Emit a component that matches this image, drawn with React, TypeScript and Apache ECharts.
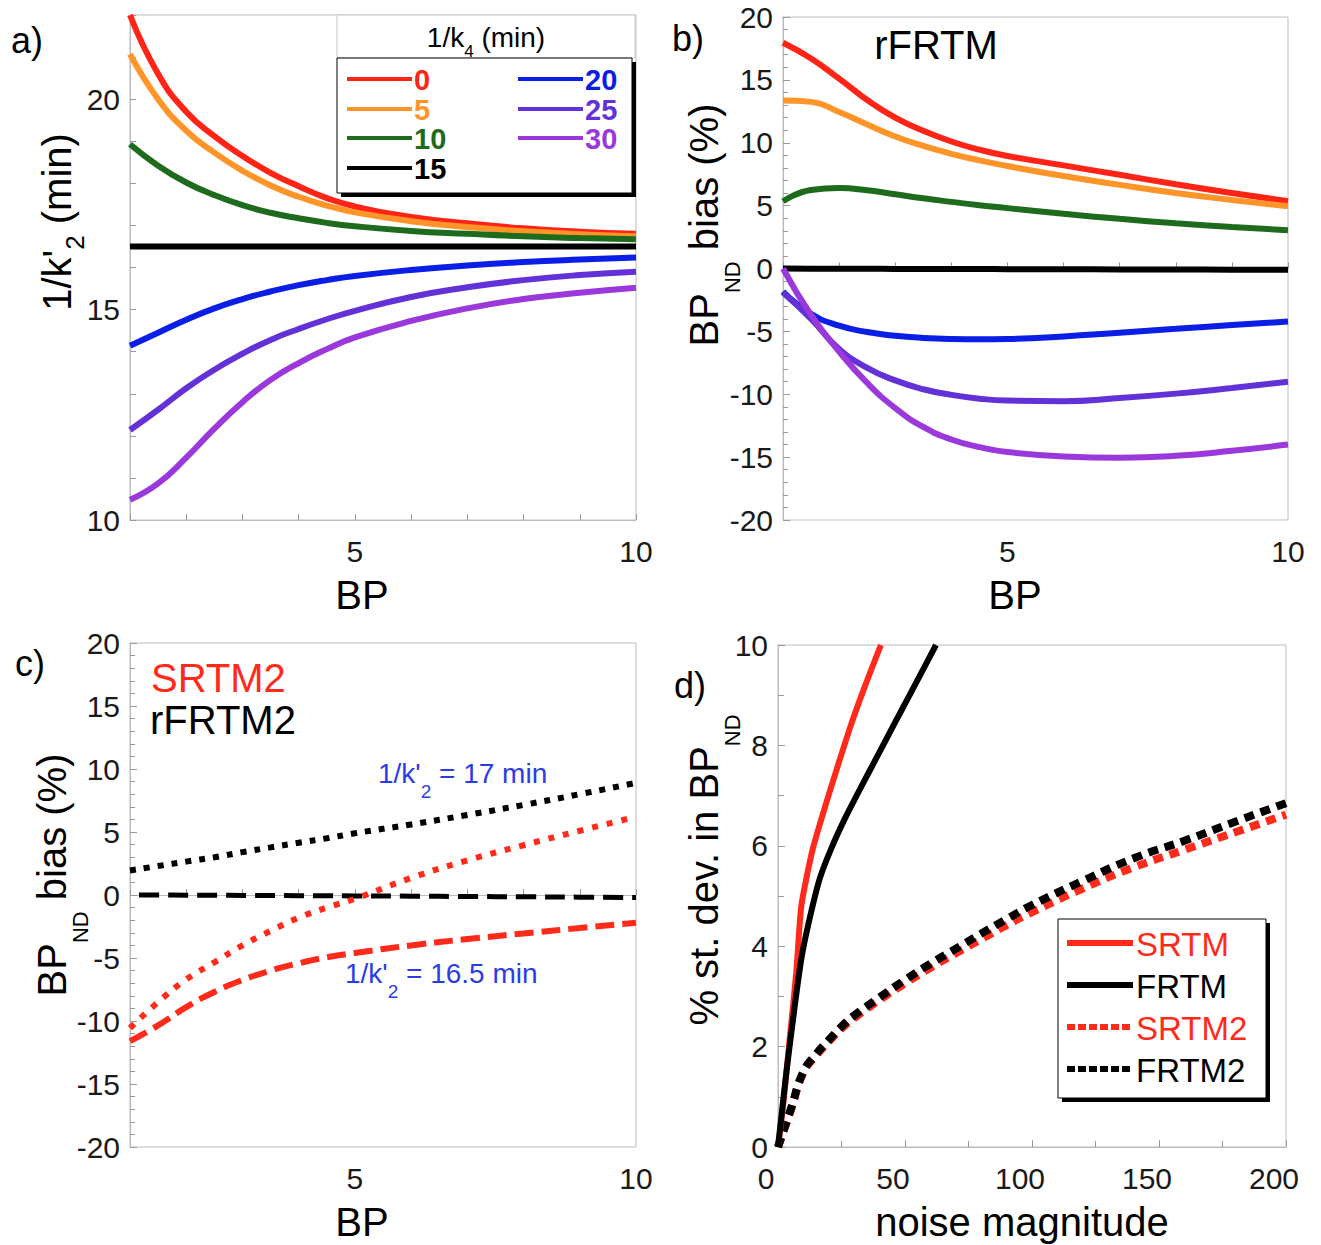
import React, { useEffect, useRef } from "react";
import * as echarts from "echarts";

// ---------- data ----------
const BP = [1, 1.5, 2, 2.5, 3, 3.5, 4, 4.5, 5, 6, 7, 8, 9, 10];

const K4_NAMES = ["0", "5", "10", "15", "20", "25", "30"];
const K4_COLORS = ["#ff2416", "#ff9428", "#1e6b1e", "#000000", "#0a1ee6", "#6232d8", "#9a38dc"];

// panel a: 1/k'2 (min) vs BP
const A_K4_0 = [22.0, 20.6, 19.7, 19.12, 18.65, 18.25, 17.93, 17.65, 17.45, 17.2, 17.05, 16.93, 16.85, 16.8];
const A_K4_5 = [21.07, 20.0, 19.25, 18.73, 18.3, 17.95, 17.68, 17.47, 17.31, 17.1, 16.96, 16.86, 16.79, 16.74];
const A_K4_10 = [18.93, 18.42, 18.02, 17.72, 17.48, 17.3, 17.17, 17.06, 16.98, 16.87, 16.8, 16.74, 16.7, 16.67];
const A_K4_15 = [16.5, 16.5, 16.5, 16.5, 16.5, 16.5, 16.5, 16.5, 16.5, 16.5, 16.5, 16.5, 16.5, 16.5];
const A_K4_20 = [14.14, 14.45, 14.76, 15.03, 15.25, 15.43, 15.58, 15.7, 15.8, 15.94, 16.05, 16.13, 16.19, 16.24];
const A_K4_25 = [12.14, 12.62, 13.13, 13.57, 13.95, 14.28, 14.54, 14.77, 14.97, 15.3, 15.53, 15.7, 15.82, 15.9];
const A_K4_30 = [10.48, 10.87, 11.48, 12.17, 12.8, 13.33, 13.73, 14.06, 14.34, 14.73, 15.03, 15.25, 15.4, 15.52];
const A_SERIES = [A_K4_0, A_K4_5, A_K4_10, A_K4_15, A_K4_20, A_K4_25, A_K4_30];

// panel b: rFRTM BPND bias (%) vs BP
const B_K4_0 = [17.95, 16.7, 15.1, 13.4, 12.0, 10.95, 10.1, 9.45, 8.95, 8.2, 7.45, 6.7, 6.0, 5.35];
const B_K4_5 = [13.36, 13.25, 12.45, 11.45, 10.5, 9.75, 9.12, 8.6, 8.15, 7.35, 6.65, 6.0, 5.45, 4.95];
const B_K4_10 = [5.34, 6.25, 6.4, 6.22, 5.9, 5.58, 5.3, 5.03, 4.8, 4.35, 3.95, 3.6, 3.3, 3.05];
const B_K4_15 = [0, -0.01, -0.02, -0.02, -0.03, -0.03, -0.04, -0.04, -0.05, -0.06, -0.07, -0.08, -0.09, -0.1];
const B_K4_20 = [-1.83, -3.6, -4.55, -5.05, -5.35, -5.52, -5.6, -5.62, -5.6, -5.4, -5.1, -4.8, -4.5, -4.22];
const B_K4_25 = [-1.9, -4.0, -6.4, -7.9, -8.9, -9.6, -10.05, -10.35, -10.5, -10.55, -10.3, -9.95, -9.5, -9.0];
const B_K4_30 = [0.0, -3.7, -6.6, -9.1, -11.1, -12.6, -13.6, -14.2, -14.6, -14.95, -15.05, -14.9, -14.5, -14.0];
const B_SERIES = [B_K4_0, B_K4_5, B_K4_10, B_K4_15, B_K4_20, B_K4_25, B_K4_30];

// panel c: BPND bias (%) vs BP
const C_SRTM2_17 = [-10.56, -8.5, -6.7, -5.35, -4.0, -2.85, -1.8, -1.0, -0.3, 1.35, 2.75, 3.95, 5.1, 6.2];
const C_SRTM2_165 = [-11.6, -10.35, -8.9, -7.7, -6.75, -6.0, -5.42, -4.95, -4.6, -4.0, -3.5, -3.05, -2.62, -2.2];
const C_RFRTM2_17 = [1.95, 2.3, 2.65, 3.0, 3.4, 3.78, 4.15, 4.5, 4.9, 5.6, 6.35, 7.15, 8.0, 8.9];
const C_RFRTM2_165 = [0, 0, -0.01, -0.02, -0.03, -0.04, -0.05, -0.06, -0.07, -0.09, -0.12, -0.14, -0.17, -0.2];
const C_TITLES = ["SRTM2", "rFRTM2"];
const C_NOTES = ["17", "16.5"];

// panel d: % st. dev. in BPND vs noise magnitude
const D_SRTM_NOISE = [0, 2, 4.6, 7.2, 9.2, 13.7, 20.3, 28.2, 34, 40.5];
const D_SRTM_SD = [0, 0.82, 2.15, 3.48, 4.81, 5.94, 7.07, 8.33, 9.15, 10];
const D_FRTM_NOISE = [0, 3.3, 6.6, 9.2, 12, 16.4, 21, 26.9, 33, 39.9, 46, 51.7, 57, 62.2];
const D_FRTM_SD = [0, 1.49, 2.81, 3.75, 4.45, 5.34, 5.95, 6.6, 7.2, 7.86, 8.45, 8.99, 9.5, 10];
const D_NOISE2 = [0, 5, 10, 15, 20, 25, 30, 40, 50, 60, 70, 80, 90, 100, 120, 140, 160, 180, 200];
const D_SRTM2_SD = [0, 0.72, 1.48, 1.82, 2.1, 2.36, 2.57, 2.93, 3.26, 3.57, 3.86, 4.14, 4.42, 4.68, 5.15, 5.57, 5.92, 6.27, 6.62];
const D_FRTM2_SD = [0, 0.75, 1.5, 1.85, 2.13, 2.4, 2.62, 2.98, 3.33, 3.65, 3.95, 4.25, 4.54, 4.82, 5.3, 5.75, 6.1, 6.48, 6.85];
const D_NAMES = ["SRTM", "FRTM", "SRTM2", "FRTM2"];

// ---------- styles ----------
const FONT = "'Liberation Sans', Arial, Helvetica, sans-serif";
const FRAME = "#bdbdbd";
const TICK = "#9a9a9a";
const LABEL = "#1a1a1a";
const RED = "#ff2a1a";
const BLUE = "#2a3ce8";

const pairs = (xs: number[], ys: number[]) => xs.map((x, i) => [x, ys[i]]);

function txt(x: number, y: number, text: string, o: any = {}) {
  const align = o.align || "left";
  const va = o.va || "middle";
  return {
    type: "text",
    x,
    y,
    rotation: o.rotation || 0,
    z: 100,
    style: {
      text,
      fill: o.fill || "#000",
      fontSize: o.fontSize || 30,
      fontFamily: FONT,
      fontWeight: o.fontWeight || "normal",
      lineHeight: o.lineHeight,
      align,
      verticalAlign: va,
      textAlign: align,
      textVerticalAlign: va,
      rich: o.rich,
    },
  };
}

function hline(x1: number, x2: number, y: number, color: string, dash?: number[]) {
  return {
    type: "line",
    z: 100,
    shape: { x1, y1: y, x2, y2: y },
    style: { stroke: color, lineWidth: 6, lineDash: dash || null },
  };
}

function bpAxis(gridIndex: number) {
  return {
    type: "value",
    gridIndex,
    min: 1,
    max: 10,
    interval: 1,
    axisLine: { show: true, lineStyle: { color: FRAME } },
    axisTick: { show: true, inside: true, length: 6, lineStyle: { color: TICK } },
    splitLine: { show: false },
    axisLabel: {
      fontSize: 30,
      color: LABEL,
      fontFamily: FONT,
      margin: 16,
      formatter: (v: number) => (v === 5 || v === 10 ? String(v) : ""),
    },
  };
}

function biasAxis(gridIndex: number) {
  return {
    type: "value",
    gridIndex,
    min: -20,
    max: 20,
    interval: 5,
    axisLine: { show: true, lineStyle: { color: FRAME } },
    axisTick: { show: true, inside: true, length: 7, lineStyle: { color: TICK } },
    minorTick: { show: true, splitNumber: 5, length: 5, lineStyle: { color: TICK } },
    splitLine: { show: false },
    axisLabel: { fontSize: 30, color: LABEL, fontFamily: FONT, margin: 10 },
  };
}

export default function App() {
  const ref = useRef<HTMLDivElement>(null);

  useEffect(() => {
    document.body.style.margin = "0";
    if (!ref.current) return;
    const chart = echarts.init(ref.current, undefined, { renderer: "svg" });

    const series: any[] = [];
    A_SERIES.forEach((ys, i) => {
      series.push({
        type: "line",
        name: K4_NAMES[i],
        xAxisIndex: 0,
        yAxisIndex: 0,
        data: pairs(BP, ys),
        symbol: "none",
        smooth: true,
        lineStyle: { color: K4_COLORS[i], width: 6 },
      });
    });
    B_SERIES.forEach((ys, i) => {
      series.push({
        type: "line",
        name: "b" + K4_NAMES[i],
        xAxisIndex: 1,
        yAxisIndex: 1,
        data: pairs(BP, ys),
        symbol: "none",
        smooth: true,
        lineStyle: { color: K4_COLORS[i], width: 6 },
      });
    });
    // panel c
    series.push(
      {
        type: "line", name: "rFRTM2 17", xAxisIndex: 2, yAxisIndex: 2,
        data: pairs(BP, C_RFRTM2_17), symbol: "none", smooth: true,
        lineStyle: { color: "#000", width: 6, type: [6, 8], cap: "butt" },
      },
      {
        type: "line", name: "rFRTM2 16.5", xAxisIndex: 2, yAxisIndex: 2,
        data: pairs(BP, C_RFRTM2_165), symbol: "none", smooth: true,
        lineStyle: { color: "#000", width: 5, type: [20, 9], dashOffset: 20, cap: "butt" },
      },
      {
        type: "line", name: "SRTM2 17", xAxisIndex: 2, yAxisIndex: 2,
        data: pairs(BP, C_SRTM2_17), symbol: "none", smooth: true,
        lineStyle: { color: RED, width: 6, type: [6, 9], cap: "butt" },
      },
      {
        type: "line", name: "SRTM2 16.5", xAxisIndex: 2, yAxisIndex: 2,
        data: pairs(BP, C_SRTM2_165), symbol: "none", smooth: true,
        lineStyle: { color: RED, width: 6, type: [19, 8], cap: "butt" },
      }
    );
    // panel d
    series.push(
      {
        type: "line", name: D_NAMES[2], xAxisIndex: 3, yAxisIndex: 3,
        data: pairs(D_NOISE2, D_SRTM2_SD), symbol: "none", smooth: true,
        lineStyle: { color: RED, width: 8, type: [10, 7], cap: "butt" },
      },
      {
        type: "line", name: D_NAMES[3], xAxisIndex: 3, yAxisIndex: 3,
        data: pairs(D_NOISE2, D_FRTM2_SD), symbol: "none", smooth: true,
        lineStyle: { color: "#000", width: 8, type: [10, 7], cap: "butt" },
      },
      {
        type: "line", name: D_NAMES[0], xAxisIndex: 3, yAxisIndex: 3,
        data: pairs(D_SRTM_NOISE, D_SRTM_SD), symbol: "none", smooth: 0.2,
        lineStyle: { color: RED, width: 6 },
      },
      {
        type: "line", name: D_NAMES[1], xAxisIndex: 3, yAxisIndex: 3,
        data: pairs(D_FRTM_NOISE, D_FRTM_SD), symbol: "none", smooth: 0.2,
        lineStyle: { color: "#000", width: 6 },
      }
    );

    // ----- graphics: legends, titles, annotations -----
    const g: any[] = [];
    // panel letters
    g.push(txt(27, 40, "a)", { fontSize: 36, align: "center" }));
    g.push(txt(688, 38, "b)", { fontSize: 36, align: "center" }));
    g.push(txt(30, 663, "c)", { fontSize: 36, align: "center" }));
    g.push(txt(690, 685, "d)", { fontSize: 36, align: "center" }));

    // axis titles
    const subND = { s: { fontSize: 22, padding: [56, 0, 0, 0], fontFamily: FONT } };
    g.push(txt(362, 595, "BP", { fontSize: 40, align: "center" }));
    g.push(txt(1015, 595, "BP", { fontSize: 40, align: "center" }));
    g.push(txt(362, 1222, "BP", { fontSize: 40, align: "center" }));
    g.push(txt(1022, 1222, "noise magnitude", { fontSize: 40, align: "center" }));
    g.push(txt(57, 222, "1/k'{s|2} (min)", {
      fontSize: 40, align: "center", rotation: Math.PI / 2,
      rich: { s: { fontSize: 26, padding: [36, 0, 0, 0], fontFamily: FONT } },
    }));
    g.push(txt(704, 225, "BP{s|ND} bias (%)", { fontSize: 40, align: "center", rotation: Math.PI / 2, rich: subND }));
    g.push(txt(52, 875, "BP{s|ND} bias (%)", { fontSize: 40, align: "center", rotation: Math.PI / 2, rich: subND }));
    g.push(txt(704, 870, "% st. dev. in BP{s|ND}", { fontSize: 40, align: "center", rotation: Math.PI / 2, rich: subND }));

    // panel b label
    g.push(txt(936, 45, "rFRTM", { fontSize: 40, align: "center" }));

    // panel c labels
    g.push(txt(151, 678, C_TITLES[0], { fontSize: 40, fill: RED, lineHeight: 38 }));
    g.push(txt(150, 720, C_TITLES[1], { fontSize: 40, lineHeight: 38 }));
    const subNote = { s: { fontSize: 19, padding: [36, 0, 0, 0], fontFamily: FONT, fill: BLUE } };
    g.push(txt(378, 773, "1/k'{s|2} = " + C_NOTES[0] + " min", { fontSize: 28, fill: BLUE, rich: subNote }));
    g.push(txt(345, 973, "1/k'{s|2} = " + C_NOTES[1] + " min", { fontSize: 28, fill: BLUE, rich: subNote }));

    // legend a
    g.push({
      type: "rect", z: 99,
      shape: { x: 337, y: 15, width: 298, height: 43 },
      style: { fill: "#fff", stroke: "#c8c8c8", lineWidth: 1 },
    });
    g.push(txt(486, 37, "1/k{s|4} (min)", {
      fontSize: 28, align: "center",
      rich: { s: { fontSize: 17, padding: [28, 0, 0, 0], fontFamily: FONT } },
    }));
    g.push({ type: "rect", z: 99, shape: { x: 341, y: 62, width: 295, height: 135 }, style: { fill: "#000" } });
    g.push({
      type: "rect", z: 99,
      shape: { x: 337, y: 58, width: 295, height: 135 },
      style: { fill: "#fff", stroke: "#000", lineWidth: 1 },
    });
    const legRowsA = [79, 109, 138, 168];
    K4_NAMES.forEach((name, i) => {
      const col = i < 4 ? 0 : 1;
      const row = i < 4 ? i : i - 4;
      const lx = col === 0 ? 347 : 518;
      const y = legRowsA[row];
      g.push({
        type: "line", z: 100,
        shape: { x1: lx, y1: y, x2: lx + 65, y2: y },
        style: { stroke: K4_COLORS[i], lineWidth: 4 },
      });
      g.push(txt(lx + 67, y + 1, name, { fontSize: 29, fontWeight: "bold", fill: K4_COLORS[i], lineHeight: 26 }));
    });

    // legend d
    g.push({ type: "rect", z: 99, shape: { x: 1062, y: 923, width: 208, height: 179 }, style: { fill: "#000" } });
    g.push({
      type: "rect", z: 99,
      shape: { x: 1058, y: 919, width: 208, height: 179 },
      style: { fill: "#fff", stroke: "#000", lineWidth: 1 },
    });
    const legRowsD = [943, 985, 1027, 1069];
    const legColorsD = [RED, "#000", RED, "#000"];
    D_NAMES.forEach((name, i) => {
      const y = legRowsD[i];
      g.push(hline(1067, 1133, y, legColorsD[i], i >= 2 ? [8, 3] : undefined));
      g.push(txt(1136, y + 1, name, { fontSize: 33, fill: legColorsD[i], lineHeight: 36 }));
    });

    const option: any = {
      animation: false,
      backgroundColor: "#fff",
      grid: [
        { left: 130, top: 15, width: 506, height: 505, show: true, borderColor: FRAME, borderWidth: 1 },
        { left: 783, top: 17, width: 505, height: 503, show: true, borderColor: FRAME, borderWidth: 1 },
        { left: 130, top: 643, width: 506, height: 504, show: true, borderColor: FRAME, borderWidth: 1 },
        { left: 778, top: 645, width: 508, height: 502, show: true, borderColor: FRAME, borderWidth: 1 },
      ],
      xAxis: [
        bpAxis(0),
        bpAxis(1),
        bpAxis(2),
        {
          type: "value", gridIndex: 3, min: 0, max: 200, interval: 50,
          axisLine: { show: true, lineStyle: { color: FRAME } },
          axisTick: { show: true, inside: true, length: 7, lineStyle: { color: TICK } },
          minorTick: { show: true, splitNumber: 2, length: 6, lineStyle: { color: TICK } },
          splitLine: { show: false },
          axisLabel: { fontSize: 30, color: LABEL, fontFamily: FONT, margin: 16, padding: [0, 24, 0, 0] },
        },
      ],
      yAxis: [
        {
          type: "value", gridIndex: 0, min: 10, max: 22, interval: 1,
          axisLine: { show: true, lineStyle: { color: FRAME } },
          axisTick: { show: true, inside: true, length: 6, lineStyle: { color: TICK } },
          splitLine: { show: false },
          axisLabel: {
            fontSize: 30, color: LABEL, fontFamily: FONT, margin: 10,
            formatter: (v: number) => (v % 5 === 0 ? String(v) : ""),
          },
        },
        biasAxis(1),
        biasAxis(2),
        {
          type: "value", gridIndex: 3, min: 0, max: 10, interval: 2,
          axisLine: { show: true, lineStyle: { color: FRAME } },
          axisTick: { show: true, inside: true, length: 7, lineStyle: { color: TICK } },
          minorTick: { show: true, splitNumber: 2, length: 6, lineStyle: { color: TICK } },
          splitLine: { show: false },
          axisLabel: { fontSize: 30, color: LABEL, fontFamily: FONT, margin: 10 },
        },
      ],
      series,
      graphic: g,
    };

    chart.setOption(option);
    return () => chart.dispose();
  }, []);

  return <div ref={ref} style={{ width: 1321, height: 1245 }} />;
}
